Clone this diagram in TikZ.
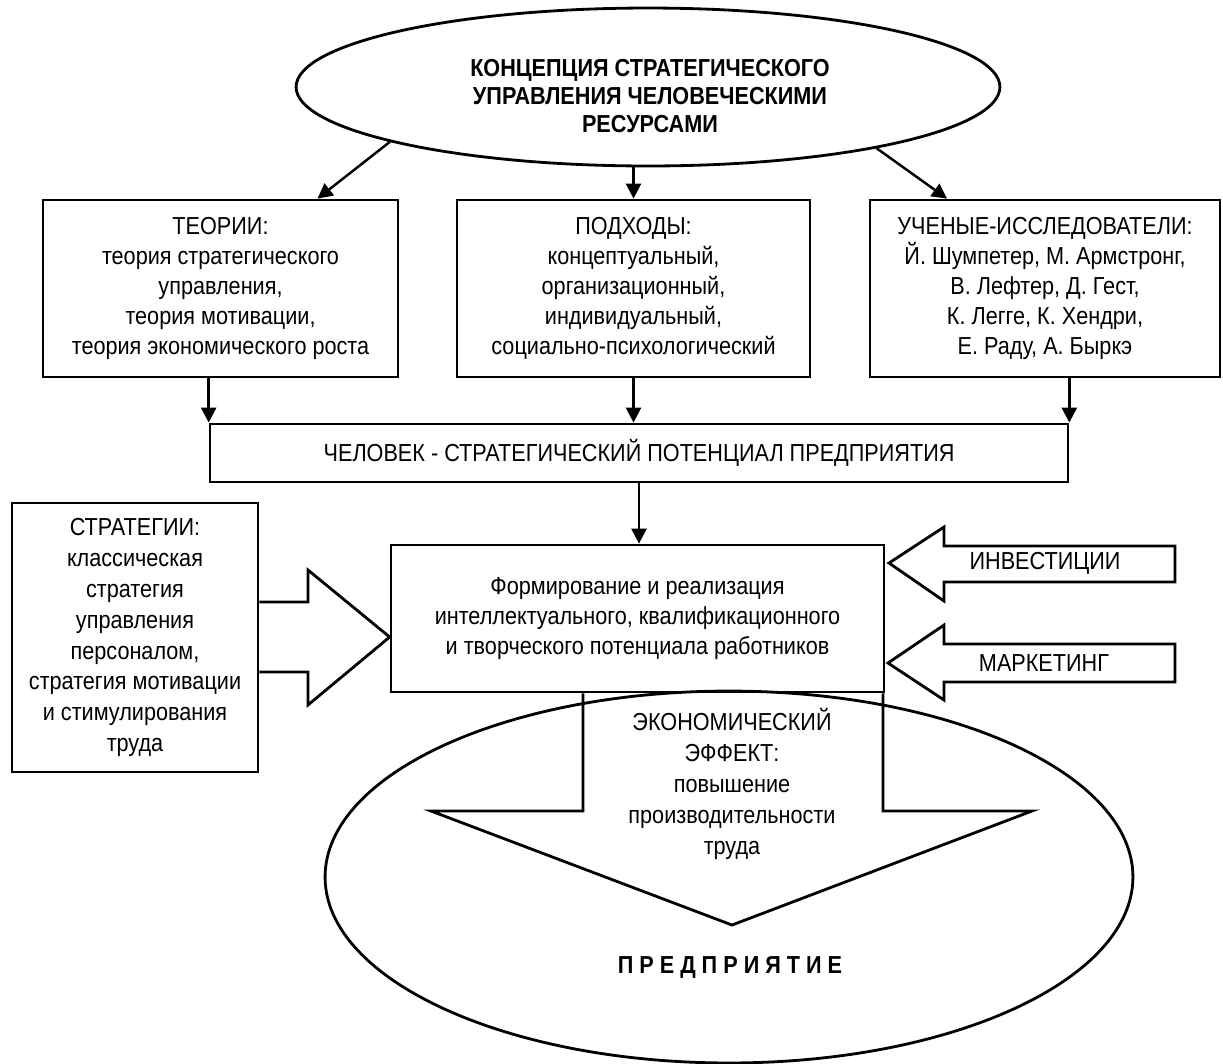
\documentclass[tikz,border=0pt]{standalone}
\usepackage{fontspec}
\setmainfont[FakeStretch=0.88]{Liberation Sans}
\usetikzlibrary{arrows.meta,shapes.geometric,calc}

\newcommand{\boxLine}{1.6pt}
\newcommand{\shaftRight}{1175}

\tikzset{
  blockbox/.style={draw, line width=\boxLine, align=center, inner sep=0pt, font=\fontsize{14}{17}\selectfont},
  plaintext/.style={align=center, inner sep=0pt, font=\fontsize{14}{17}\selectfont},
  conn/.style={line width=1.4pt, -{Triangle[length=0.3cm,width=0.3cm]}},
  blockarrow/.style={line width=\boxLine, line join=miter},
}

\begin{document}
\begin{tikzpicture}[x=0.02cm,y=-0.02cm]
    \useasboundingbox (0,0) rectangle (1223,1063);

    % concept and the three sources
    \node[draw, ellipse, line width=\boxLine, minimum width=14.08cm, minimum height=3.16cm] (concept) at (648,87) {};
    \node[plaintext, font=\bfseries\fontsize{14}{16}\selectfont] (concept_text) at (650,96)
          {КОНЦЕПЦИЯ СТРАТЕГИЧЕСКОГО\\ УПРАВЛЕНИЯ ЧЕЛОВЕЧЕСКИМИ\\ РЕСУРСАМИ};
    \node[blockbox, minimum width=7.1cm, minimum height=3.54cm] (theory) at (220.5,288.5)
          {ТЕОРИИ:\\ теория стратегического\\ управления,\\ теория мотивации,\\ теория экономического роста};
    \node[blockbox, minimum width=7.06cm, minimum height=3.54cm] (approach) at (633.5,288.5)
          {ПОДХОДЫ:\\ концептуальный,\\ организационный,\\ индивидуальный,\\ социально-психологический};
    \node[blockbox, minimum width=7.0cm, minimum height=3.54cm] (scholar) at (1045,288.5)
          {УЧЕНЫЕ-ИССЛЕДОВАТЕЛИ:\\ Й. Шумпетер, М. Армстронг,\\ В. Лефтер, Д. Гест,\\ К. Легге, К. Хендри,\\ Е. Раду, А. Быркэ};

    \draw[conn] (concept.192) -- ($(theory.north)+(97,0)$);
    \draw[conn] (concept.south -| approach.north) -- (approach.north);
    \draw[conn] (concept.345) -- ($(scholar.north)+(-98,0)$);

    % human potential
    \node[blockbox, minimum width=17.16cm, minimum height=1.16cm] (human) at (639,453)
          {ЧЕЛОВЕК - СТРАТЕГИЧЕСКИЙ ПОТЕНЦИАЛ ПРЕДПРИЯТИЯ};
    \draw[conn] (theory.south -| human.north west) -- (human.north west);
    \draw[conn] (approach.south) -- (approach.south |- human.north);
    \draw[conn] (scholar.south -| human.north east) -- (human.north east);

    % forming the potential
    \node[blockbox, minimum width=9.86cm, minimum height=2.94cm] (form) at (637.5,618.5)
          {Формирование и реализация\\ интеллектуального, квалификационного\\ и творческого потенциала работников};
    \draw[conn] (human.south) -- (human.south |- form.north);

    \node[blockbox, minimum width=4.92cm, minimum height=5.38cm, font=\fontsize{14}{17.6}\selectfont] (strat) at (135,637.5)
          {СТРАТЕГИИ:\\ классическая\\ стратегия\\ управления\\ персоналом,\\ стратегия мотивации\\ и стимулирования\\ труда};
    \draw[blockarrow] (strat.east |- 0,602) -- (308,602) -- (308,570) -- (form.west |- 0,637)
          -- (308,705) -- (308,672) -- (strat.east |- 0,672);

    \draw[blockarrow] (\shaftRight,546) -- (944,546) -- (944,527) -- (889,563) -- (944,601) -- (944,582) -- (\shaftRight,582) -- cycle;
    \node[plaintext] (invest_text) at (1045,563) {ИНВЕСТИЦИИ};
    \draw[blockarrow] (\shaftRight,644) -- (944,644) -- (944,625) -- (888,663) -- (944,700) -- (944,682) -- (\shaftRight,682) -- cycle;
    \node[plaintext] (market_text) at (1044,663) {МАРКЕТИНГ};

    % enterprise and the effect
    \node[draw, ellipse, line width=\boxLine, minimum width=16.16cm, minimum height=7.44cm] (enterprise) at (729,877) {};
    \draw[blockarrow] (583,0 |- form.south) -- (583,811) -- (431,811) -- (732,925) -- (1032,811) -- (883,811) -- (883,0 |- form.south);
    \node[plaintext, font=\fontsize{14}{17.6}\selectfont] (effect_text) at (732,784)
          {ЭКОНОМИЧЕСКИЙ\\ ЭФФЕКТ:\\ повышение\\ производительности\\ труда};
    \node[plaintext, font=\bfseries\fontsize{14}{17}\selectfont] (enterprise_text) at (730,967) {П Р Е Д П Р И Я Т И Е};
\end{tikzpicture}
\end{document}
